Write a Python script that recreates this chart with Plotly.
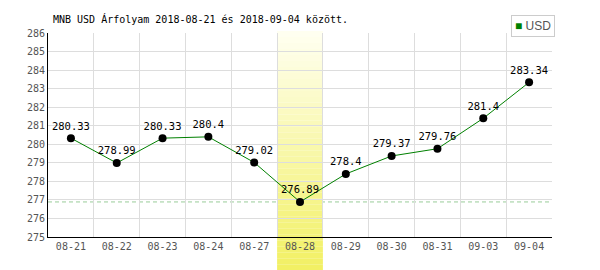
import plotly.graph_objects as go

dates = ["08-21", "08-22", "08-23", "08-24", "08-27", "08-28", "08-29", "08-30", "08-31", "09-03", "09-04"]
usd = [280.33, 278.99, 280.33, 280.4, 279.02, 276.89, 278.4, 279.37, 279.76, 281.4, 283.34]
labels = ["280.33", "278.99", "280.33", "280.4", "279.02", "276.89", "278.4", "279.37", "279.76", "281.4", "283.34"]
series_name = "USD"
highlight = "08-28"
title = "MNB USD Árfolyam 2018-08-21 és 2018-09-04 között."
y_ticks = list(range(275, 287))

mono = "DejaVu Sans Mono"
fig = go.Figure()

fig.add_trace(go.Scatter(
    x=dates, y=usd, mode="lines+markers+text", text=labels, name=series_name,
    textposition="top center", textfont=dict(family=mono, size=10.5, color="#000"),
    line=dict(color="#008000", width=1), marker=dict(color="#000", size=8),
    showlegend=False, cliponaxis=False))

shapes = []
shapes.append(dict(type="line", xref="paper", yref="y", x0=0, x1=1, y0=min(usd), y1=min(usd),
                   line=dict(color="#99cc99", width=1, dash="4px,3px"), layer="between"))
hi = dates.index(highlight)
n = 40
top, bot = 1.01, -0.165
c0 = (255, 255, 240)
c1 = (242, 240, 100)
for i in range(n):
    t = i / (n - 1)
    col = tuple(int(round(c0[k] + (c1[k] - c0[k]) * t)) for k in range(3))
    ya = top + (bot - top) * i / n
    yb = top + (bot - top) * (i + 1) / n
    shapes.append(dict(type="rect", xref="x", yref="paper", x0=hi - 0.5, x1=hi + 0.5,
                       y0=yb, y1=ya, fillcolor="rgb(%d,%d,%d)" % col,
                       line=dict(width=0), layer="between"))

legend_ann = dict(
    xref="paper", yref="paper", x=(511 - 48) / 504, y=(237 - 15) / 204,
    xanchor="left", yanchor="top", showarrow=False, align="left",
    text="<span style='color:#008000'>■</span> " + series_name,
    font=dict(family="Liberation Sans Narrow, Liberation Sans", size=12, color="#555"),
    bordercolor="#cccccc", borderwidth=1, borderpad=3, bgcolor="white")

fig.update_layout(
    width=600, height=270,
    margin=dict(l=48, r=48, t=33, b=33),
    paper_bgcolor="white", plot_bgcolor="white",
    title=dict(text=title, x=53 / 600, xanchor="left", y=1 - 19 / 270, yanchor="middle",
               font=dict(family=mono, size=10, color="#000")),
    xaxis=dict(type="category", range=[-0.5, len(dates) - 0.5], tickson="boundaries",
               showgrid=True, gridcolor="#dddddd", gridwidth=1,
               showline=True, linecolor="#000", linewidth=1, ticks="",
               tickfont=dict(family=mono, size=10, color="#555"), fixedrange=True),
    yaxis=dict(range=[275, 286], tickvals=y_ticks, showgrid=True, gridcolor="#dddddd",
               showline=True, linecolor="#000", linewidth=1, ticks="", zeroline=False,
               tickfont=dict(family=mono, size=10, color="#555"), fixedrange=True),
    annotations=[legend_ann],
    shapes=shapes,
    showlegend=False,
)

fig.write_html("out.html")
